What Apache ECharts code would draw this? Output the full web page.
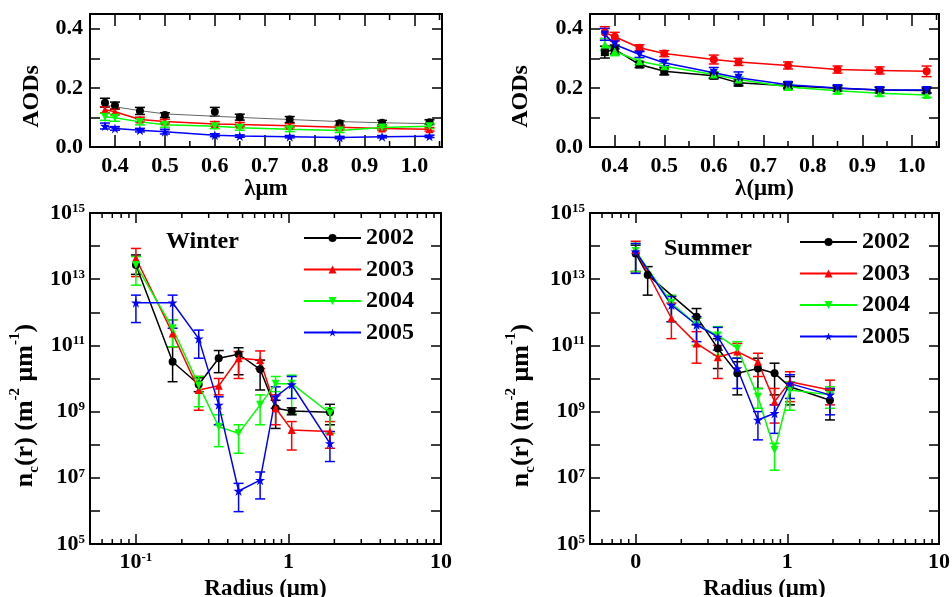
<!DOCTYPE html>
<html>
<head>
<meta charset="utf-8">
<script src="https://cdn.jsdelivr.net/npm/echarts@6/dist/echarts.min.js"></script>
<style>
html, body { margin: 0; padding: 0; background: #fff; }
#chart { width: 952px; height: 597px; }
</style>
</head>
<body>
<div id="chart"></div>
<script>
// ---- data ----
var years = ['2002', '2003', '2004', '2005'];

// AOD panels, wavelength in um
var wavelength = [0.38, 0.40, 0.45, 0.50, 0.60, 0.65, 0.75, 0.85, 0.935, 1.03];

// winter AOD
var winAod2002 = [0.150, 0.140, 0.122, 0.108, 0.119, 0.101, 0.093, 0.080, 0.082, 0.084];
var winAodFit2002 = [0.142, 0.136, 0.123, 0.112, 0.104, 0.100, 0.093, 0.086, 0.082, 0.079];
var winAod2003 = [0.126, 0.119, 0.093, 0.086, 0.078, 0.076, 0.072, 0.067, 0.063, 0.060];
var winAod2004 = [0.102, 0.099, 0.085, 0.075, 0.070, 0.065, 0.060, 0.056, 0.066, 0.070];
var winAod2005 = [0.071, 0.063, 0.057, 0.052, 0.040, 0.037, 0.035, 0.032, 0.035, 0.036];
var winAodErr2002 = [0.015, 0.012, 0.012, 0.008, 0.015, 0.010, 0.010, 0.008, 0.008, 0.008];
var winAodErr2003 = [0.010, 0.010, 0.008, 0.008, 0.008, 0.007, 0.007, 0.007, 0.007, 0.006];
var winAodErr2004 = [0.012, 0.012, 0.010, 0.008, 0.008, 0.008, 0.008, 0.007, 0.007, 0.008];
var winAodErr2005 = [0.010, 0.006, 0.006, 0.008, 0.005, 0.004, 0.004, 0.004, 0.004, 0.004];

// summer AOD
var sumAod2002 = [0.321, 0.330, 0.279, 0.256, 0.241, 0.217, 0.207, 0.199, 0.193, 0.191];
var sumAod2003 = [0.387, 0.373, 0.336, 0.316, 0.296, 0.288, 0.276, 0.262, 0.259, 0.256];
var sumAod2004 = [0.347, 0.324, 0.290, 0.273, 0.245, 0.228, 0.203, 0.190, 0.182, 0.176];
var sumAod2005 = [0.381, 0.347, 0.313, 0.285, 0.251, 0.234, 0.211, 0.200, 0.193, 0.193];
var sumAodErr2002 = [0.020, 0.015, 0.010, 0.012, 0.010, 0.010, 0.010, 0.008, 0.008, 0.008];
var sumAodErr2003 = [0.020, 0.015, 0.010, 0.010, 0.015, 0.012, 0.012, 0.012, 0.012, 0.018];
var sumAodErr2004 = [0.020, 0.015, 0.012, 0.010, 0.010, 0.010, 0.010, 0.010, 0.010, 0.008];
var sumAodErr2005 = [0.020, 0.015, 0.010, 0.010, 0.018, 0.020, 0.010, 0.010, 0.010, 0.010];

// size distributions, radius in um
var winRadius = [0.1, 0.174, 0.258, 0.349, 0.471, 0.652, 0.824, 1.05, 1.87];
var winNc2002 = [2.7e13, 3.2e10, 6.6e9, 4.1e10, 5.4e10, 1.9e10, 1.26e9, 1.05e9, 9.5e8];
var winLo2002 = [1.4e13, 8e9, 4e9, 1.5e10, 1.3e10, 4.5e9, 3.1e8, 8e8, 4e8];
var winHi2002 = [5.4e13, 9.1e10, 1.05e10, 7e10, 8.5e10, 3.6e10, 2.2e9, 1.3e9, 1.66e9];
var winNc2003 = [4.3e13, 2.3e11, 4.5e9, 6e9, 4.1e10, 3.6e10, 1.26e9, 2.8e8, 2.5e8];
var winLo2003 = [1.2e13, 9.1e10, 1.1e9, 3.2e9, 1e10, 2e10, 4e8, 6.9e7, 7.8e7];
var winHi2003 = [8.5e13, 5.9e11, 1.15e10, 1e10, 6.5e10, 6.8e10, 3.2e9, 5e8, 5e8];
var winNc2004 = [2.7e13, 3.3e11, 6.3e9, 3.5e8, 2.2e8, 1.6e9, 7e9, 7e9, 8.9e8];
var winLo2004 = [6.6e12, 9.1e10, 1.4e9, 8.7e7, 5.5e7, 4e8, 4e9, 8.9e8, 2.2e8];
var winHi2004 = [4.8e13, 5.9e11, 1.15e10, 8e8, 4e8, 3.2e9, 1.15e10, 1.26e10, 1.3e9];
var winNc2005 = [1.95e12, 1.95e12, 1.6e11, 1.6e9, 4e6, 8.5e6, 2.8e9, 6.6e9, 1.1e8];
var winLo2005 = [4.9e11, 3.3e11, 4.1e10, 4e8, 9.5e5, 2.3e6, 1.26e9, 2.5e9, 3.1e7];
var winHi2005 = [3.3e12, 3.3e12, 2.9e11, 2.8e9, 6.8e6, 1.5e7, 5.6e9, 1.15e10, 2.5e8];

var sumRadius = [0.1, 0.12, 0.172, 0.252, 0.348, 0.468, 0.640, 0.824, 1.04, 1.91];
var sumNc2002 = [6e13, 1.35e13, null, 7.4e11, 8.1e10, 1.45e10, 2e10, 1.45e10, 5.6e9, 2.2e9];
var sumLo2002 = [1.7e13, 3.3e12, null, 4.2e11, 2e10, 3.2e9, 5e9, 3.2e9, 1.6e9, 5.6e8];
var sumHi2002 = [1.07e14, 2.4e13, null, 1.3e12, 1.6e11, 3.2e10, 4.1e10, 2.9e10, 1.15e10, 4.5e9];
var sumNc2003 = [7.6e13, null, 6.6e11, 1.15e11, 4.4e10, 6.5e10, 3.2e10, 2e9, 8e9, 4.5e9];
var sumLo2003 = [1.7e13, null, 1.6e11, 2.9e10, 1e10, 4.1e10, 1.15e10, 4.5e8, 2e9, 1.6e9];
var sumHi2003 = [1.4e14, null, 1.9e12, 2.6e11, 1e11, 1.15e11, 5.8e10, 5e9, 1.6e10, 8.9e9];
var sumNc2004 = [7.1e13, null, 1.9e12, 4.2e11, 2e11, 8.1e10, 2.8e9, 6.9e7, 4.5e9, 3.2e9];
var sumLo2004 = [1.7e13, null, 5.2e11, 1e11, 5.1e10, 4.1e10, 1.26e9, 1.7e7, 1.1e9, 1.26e9];
var sumHi2004 = [1.2e14, null, 3.3e12, 6.6e11, 3.7e11, 1.3e11, 5e9, 1.1e8, 8e9, 5.6e9];
var sumNc2005 = [6.8e13, null, 1.66e12, 4.2e11, 1.8e11, 2e10, 5.6e8, 8.9e8, 7e9, 3.2e9];
var sumLo2005 = [1.5e13, null, 5.2e11, 1.3e11, 7.2e10, 5e9, 1.4e8, 2.2e8, 2.5e9, 8e8];
var sumHi2005 = [1.2e14, null, 3e12, 7.4e11, 3.5e11, 4.1e10, 1e9, 1.6e9, 1.3e10, 5e9];

// small ticks that the axes do not draw themselves
var aodMinorTicks = [0.45, 0.55, 0.65, 0.75, 0.85, 0.95, 1.05];
var radiusMinorTicks = [0.06, 0.07, 0.08, 0.09, 0.2, 0.3, 0.4, 0.5, 0.6, 0.7, 0.8, 0.9, 2, 3, 4, 5, 6, 7, 8, 9];

// ---- styles ----
var FONT = 'Liberation Serif';
var yearColor = ['#000000', '#ff0000', '#00ff00', '#0000ff'];
var downTri = 'path://M0,0 L10,0 L5,8.7 Z';
var star = 'path://M5,0 L6.18,3.62 L10,3.62 L6.91,5.86 L8.09,9.5 L5,7.26 L1.91,9.5 L3.09,5.86 L0,3.62 L3.82,3.62 Z';
var yearSymbol = ['circle', 'triangle', downTri, star];
var sumAodSymbol = ['rect', 'circle', 'triangle', downTri];

function txt(size, extra) {
  return Object.assign({color: '#000', fontFamily: FONT, fontWeight: 'bold', fontSize: size}, extra || {});
}
var frame = {onZero: false, lineStyle: {color: '#000', width: 2}};

function isStep(v, step) {
  var k = v / step;
  return Math.abs(k - Math.round(k)) < 1e-6;
}
function logExp(v) {
  var e = Math.log(v) / Math.LN10;
  return Math.abs(e - Math.round(e)) < 0.01 ? Math.round(e) : null;
}

function aodX(g, pos, name, gap) {
  return {
    type: 'value', gridIndex: g, position: pos, min: 0.35, max: 1.055, splitNumber: 7,
    axisLine: frame,
    axisTick: {inside: true, length: 12, lineStyle: {color: '#000', width: 1.5}},
    axisLabel: Object.assign(txt(22), {show: pos === 'bottom', margin: 8,
      formatter: function (v) { return isStep(v, 0.1) ? v.toFixed(1) : ''; }}),
    splitLine: {show: false},
    name: pos === 'bottom' ? name : '', nameLocation: 'middle', nameGap: gap,
    nameTextStyle: txt(23)
  };
}
function aodY(g, pos, gap) {
  return {
    type: 'value', gridIndex: g, position: pos, min: 0, max: 0.45, interval: 0.1,
    axisLine: frame,
    axisTick: {inside: true, length: 10, lineStyle: {color: '#000', width: 1.5}},
    axisLabel: Object.assign(txt(22), {show: pos === 'left', margin: 7,
      formatter: function (v) { return isStep(v, 0.2) ? v.toFixed(1) : ''; }}),
    splitLine: {show: false},
    name: pos === 'left' ? 'AODs' : '', nameLocation: 'middle', nameGap: gap,
    nameTextStyle: txt(24, {padding: [0, 32, 0, 0]})
  };
}
var supRich = {
  b: txt(22),
  s: txt(13, {verticalAlign: 'top', lineHeight: 12})
};
function radX(g, pos, fmt) {
  return {
    type: 'log', logBase: 10, gridIndex: g, position: pos, min: 0.05, max: 10,
    axisLine: frame,
    axisTick: {inside: true, length: 10, lineStyle: {color: '#000', width: 1.5}},
    axisLabel: {show: pos === 'bottom', margin: 7, rich: supRich,
      formatter: function (v) { var e = logExp(v); return e === null ? '' : fmt(e); }},
    splitLine: {show: false},
    name: pos === 'bottom' ? 'Radius (μm)' : '', nameLocation: 'middle', nameGap: 30,
    nameTextStyle: txt(23)
  };
}
function radY(g, pos, gap) {
  return {
    type: 'log', logBase: 10, gridIndex: g, position: pos, min: 1e5, max: 9.999e14,
    axisLine: frame,
    axisTick: {inside: true, length: 10, lineStyle: {color: '#000', width: 1.5}},
    axisLabel: {show: pos === 'left', margin: 5, rich: supRich,
      formatter: function (v) {
        var e = logExp(v);
        return (e !== null && e % 2 === 1) ? '{b|10}{s|' + e + '}' : '';
      }},
    splitLine: {show: false},
    name: pos === 'left' ? '{n|n}{sub|c}{n|(r) (m}{sup|-2}{n| μm}{sup|-1}{n|)}' : '',
    nameLocation: 'middle', nameGap: gap,
    nameTextStyle: {padding: [0, 54, 0, 0], rich: {
      n: txt(26, {lineHeight: 34}),
      sub: txt(15, {verticalAlign: 'bottom', lineHeight: 15}),
      sup: txt(15, {verticalAlign: 'top', lineHeight: 15})
    }}
  };
}

// ---- series helpers ----
function errorBars(g, xs, lo, hi, color) {
  var data = [];
  for (var k = 0; k < xs.length; k++) {
    if (lo[k] == null) continue;
    data.push([xs[k], lo[k], hi[k]]);
  }
  return {
    type: 'custom', name: 'err', xAxisIndex: 2 * g, yAxisIndex: 2 * g, silent: true, z: 3,
    data: data, encode: {x: 0, y: [1, 2]},
    renderItem: function (params, api) {
      var a = api.coord([api.value(0), api.value(1)]);
      var b = api.coord([api.value(0), api.value(2)]);
      var st = {stroke: color, lineWidth: 1.5};
      return {type: 'group', children: [
        {type: 'line', shape: {x1: a[0], y1: a[1], x2: b[0], y2: b[1]}, style: st},
        {type: 'line', shape: {x1: a[0] - 5, y1: a[1], x2: a[0] + 5, y2: a[1]}, style: st},
        {type: 'line', shape: {x1: b[0] - 5, y1: b[1], x2: b[0] + 5, y2: b[1]}, style: st}
      ]};
    }
  };
}
function aodErrorBars(g, xs, vals, err, color) {
  return errorBars(g, xs,
    vals.map(function (v, k) { return v - err[k]; }),
    vals.map(function (v, k) { return v + err[k]; }), color);
}
function line(g, name, xs, ys, color, symbol, lineStyle) {
  return {
    type: 'line', name: name, xAxisIndex: 2 * g, yAxisIndex: 2 * g, z: 4,
    data: xs.map(function (x, k) { return [x, ys[k]]; }),
    connectNulls: true, symbol: symbol, symbolSize: symbol === star ? 10 : 8,
    showSymbol: symbol !== 'none',
    itemStyle: {color: color},
    lineStyle: lineStyle || {color: color, width: 1.5}
  };
}
function minorTicks(g, vals, yRef, len) {
  return {
    type: 'custom', name: 'minor', xAxisIndex: 2 * g, yAxisIndex: 2 * g, silent: true,
    data: vals.map(function (v) { return [v, yRef]; }), encode: {x: 0, y: 1},
    renderItem: function (params, api) {
      var cs = params.coordSys;
      var x = api.coord([api.value(0), api.value(1)])[0];
      var st = {stroke: '#000', lineWidth: 1.5};
      var yb = cs.y + cs.height, yt = cs.y;
      return {type: 'group', children: [
        {type: 'line', shape: {x1: x, y1: yb, x2: x, y2: yb - len}, style: st},
        {type: 'line', shape: {x1: x, y1: yt, x2: x, y2: yt + len}, style: st}
      ]};
    }
  };
}

var winAod = [winAod2002, winAod2003, winAod2004, winAod2005];
var winAodErr = [winAodErr2002, winAodErr2003, winAodErr2004, winAodErr2005];
var sumAod = [sumAod2002, sumAod2003, sumAod2004, sumAod2005];
var sumAodErr = [sumAodErr2002, sumAodErr2003, sumAodErr2004, sumAodErr2005];
var winNc = [winNc2002, winNc2003, winNc2004, winNc2005];
var winLo = [winLo2002, winLo2003, winLo2004, winLo2005];
var winHi = [winHi2002, winHi2003, winHi2004, winHi2005];
var sumNc = [sumNc2002, sumNc2003, sumNc2004, sumNc2005];
var sumLo = [sumLo2002, sumLo2003, sumLo2004, sumLo2005];
var sumHi = [sumHi2002, sumHi2003, sumHi2004, sumHi2005];

var series = [];
// size distributions first, so the legends take their style from them
years.forEach(function (y, i) {
  series.push(errorBars(2, winRadius, winLo[i], winHi[i], yearColor[i]));
  series.push(line(2, y, winRadius, winNc[i], yearColor[i], yearSymbol[i]));
});
years.forEach(function (y, i) {
  series.push(errorBars(3, sumRadius, sumLo[i], sumHi[i], yearColor[i]));
  series.push(line(3, y, sumRadius, sumNc[i], yearColor[i], yearSymbol[i]));
});
series.push(line(0, 'winter fit 2002', wavelength, winAodFit2002, '#666', 'none', {color: '#666', width: 1}));
years.forEach(function (y, i) {
  series.push(aodErrorBars(0, wavelength, winAod[i], winAodErr[i], yearColor[i]));
  series.push(line(0, 'winter ' + y, wavelength, winAod[i], yearColor[i], yearSymbol[i],
    i === 0 ? {width: 0, opacity: 0} : null));
});
years.forEach(function (y, i) {
  series.push(aodErrorBars(1, wavelength, sumAod[i], sumAodErr[i], yearColor[i]));
  series.push(line(1, 'summer ' + y, wavelength, sumAod[i], yearColor[i], sumAodSymbol[i]));
});
series.push(minorTicks(0, aodMinorTicks, 0.2, 6));
series.push(minorTicks(1, aodMinorTicks, 0.2, 6));
series.push(minorTicks(2, radiusMinorTicks, 1e10, 5));
series.push(minorTicks(3, radiusMinorTicks, 1e10, 5));

function legendAt(left, top) {
  return {
    orient: 'vertical', left: left, top: top, padding: 0,
    itemWidth: 57, itemHeight: 10, itemGap: 7.5, selectedMode: false,
    textStyle: txt(24, {padding: [0, 0, 0, 0]}),
    data: years
  };
}

var chart = echarts.init(document.getElementById('chart'), null, {renderer: 'canvas'});
chart.setOption({
  animation: false,
  backgroundColor: '#fff',
  textStyle: {fontFamily: FONT},
  grid: [
    {left: 90, top: 14, width: 352, height: 133, outerBoundsMode: 'none'},
    {left: 590, top: 14, width: 349, height: 133, outerBoundsMode: 'none'},
    {left: 90, top: 213, width: 351, height: 331, outerBoundsMode: 'none'},
    {left: 590, top: 213, width: 349, height: 331, outerBoundsMode: 'none'}
  ],
  xAxis: [
    aodX(0, 'bottom', 'λμm', 24), aodX(0, 'top'),
    aodX(1, 'bottom', 'λ(μm)', 30), aodX(1, 'top'),
    radX(2, 'bottom', function (e) { return e === -1 ? '{b|10}{s|-1}' : '{b|' + Math.pow(10, e) + '}'; }),
    radX(2, 'top', null),
    radX(3, 'bottom', function (e) { return e === -1 ? '{b|0}' : '{b|' + Math.pow(10, e) + '}'; }),
    radX(3, 'top', null)
  ],
  yAxis: [
    aodY(0, 'left', 46), aodY(0, 'right'),
    aodY(1, 'left', 57), aodY(1, 'right'),
    radY(2, 'left', 48), radY(2, 'right'),
    radY(3, 'left', 52), radY(3, 'right')
  ],
  legend: [legendAt(303, 226), legendAt(799, 230)],
  title: [
    {text: 'Winter', left: 166, top: 230, padding: 0, textStyle: txt(24)},
    {text: 'Summer', left: 664, top: 237, padding: 0, textStyle: txt(24)}
  ],
  series: series
});
</script>
</body>
</html>
